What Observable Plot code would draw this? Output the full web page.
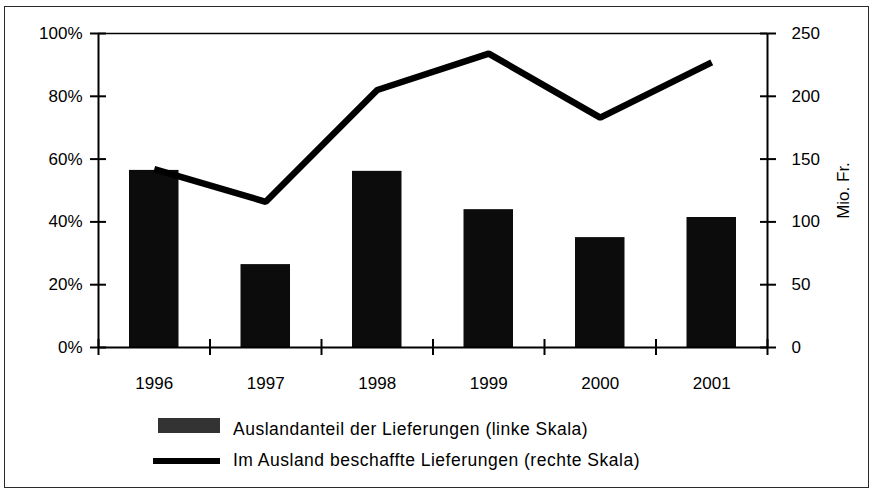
<!DOCTYPE html>
<html><head><meta charset="utf-8">
<script src="https://cdn.jsdelivr.net/npm/d3@7"></script>
<script src="https://cdn.jsdelivr.net/npm/@observablehq/plot@0.6"></script>
<style>
body{margin:0;background:#fff;font-family:"Liberation Sans",Arial,sans-serif;color:#000;}
#wrap{position:relative;width:871px;height:490px;overflow:hidden;}
#frame{position:absolute;left:4px;top:6px;width:865px;height:482px;border:1.5px solid #2a2a2a;box-sizing:border-box;}
#chart{position:absolute;left:0;top:0;}
.sw{position:absolute;}
.lt{position:absolute;font-size:17.5px;letter-spacing:0.5px;line-height:20px;height:20px;white-space:nowrap;}
</style></head>
<body>
<div id="wrap">
  <div id="frame"></div>
  <div id="chart"></div>
  <div class="sw" style="left:158px;top:418px;width:62px;height:15px;background:#333;"></div>
  <div class="lt" id="lab1" style="left:233px;top:419px;"></div>
  <div class="sw" style="left:153px;top:458px;width:67px;height:5.5px;background:#000;"></div>
  <div class="lt" id="lab2" style="left:233px;top:450px;"></div>
</div>
<script>
const years = ["1996","1997","1998","1999","2000","2001"];
const shares = [56.4, 26.4, 56.1, 43.9, 35.0, 41.4];      // Auslandanteil, % (linke Skala)
const amounts = [142, 116, 205, 234, 183, 227];           // Mio. Fr. (rechte Skala)
const leftTicks = [0, 20, 40, 60, 80, 100];
const rightTicks = [0, 50, 100, 150, 200, 250];
const seriesNames = ["Auslandanteil der Lieferungen (linke Skala)", "Im Ausland beschaffte Lieferungen (rechte Skala)"];
const rightAxisLabel = "Mio. Fr.";

const rightMax = 250;
const data = years.map((y, i) => ({i, year: y, share: shares[i], amount: amounts[i]}));
const boundaries = d3.range(0, years.length + 1);
const centers = years.map((y, i) => i + 0.5);

document.getElementById("lab1").textContent = seriesNames[0];
document.getElementById("lab2").textContent = seriesNames[1];

const chart = Plot.plot({
  width: 871,
  height: 400,
  marginLeft: 98,
  marginRight: 104,
  marginTop: 33,
  marginBottom: 53,
  x: {domain: [0, years.length]},
  y: {domain: [0, 100]},
  style: {fontSize: "17px", fontFamily: "Liberation Sans, Arial, sans-serif", color: "#000", background: "transparent", overflow: "visible"},
  marks: [
    Plot.rectY(data, {x1: "i", x2: d => d.i + 1, y: "share", fill: "#0c0c0c", insetLeft: 31, insetRight: 31}),
    Plot.ruleY([100], {strokeWidth: 1.3}),
    Plot.ruleY([0], {strokeWidth: 2}),
    Plot.ruleX([0, years.length], {strokeWidth: 2}),
    Plot.line(data, {x: d => d.i + 0.5, y: d => d.amount * 100 / rightMax, stroke: "#000", strokeWidth: 6.5, strokeLinecap: "butt", strokeLinejoin: "miter"}),
    // left axis
    Plot.axisY({anchor: "left", ticks: leftTicks, tickSize: 16, dx: 8, fill: "none", strokeWidth: 2, label: null}),
    Plot.axisY({anchor: "left", ticks: leftTicks, tickFormat: d => d + "%", tickSize: 0, tickPadding: 16, label: null}),
    // right axis
    Plot.axisY({anchor: "right", ticks: rightTicks.map(v => v * 100 / rightMax), tickSize: 16, dx: -8, fill: "none", strokeWidth: 2, label: null}),
    Plot.axisY({anchor: "right", ticks: rightTicks.map(v => v * 100 / rightMax), tickFormat: d => Math.round(d * rightMax / 100), tickSize: 0, tickPadding: 24, label: null}),
    // x axis
    Plot.axisX({ticks: boundaries, tickSize: 16, dy: -8, fill: "none", strokeWidth: 2, label: null}),
    Plot.axisX({ticks: centers, tickFormat: d => years[Math.floor(d)], tickSize: 0, tickPadding: 29, label: null}),
    Plot.text([rightAxisLabel], {frameAnchor: "right", textAnchor: "middle", rotate: -90, dx: 76, fontSize: 17})
  ]
});
document.getElementById("chart").appendChild(chart);
</script>
</body></html>
